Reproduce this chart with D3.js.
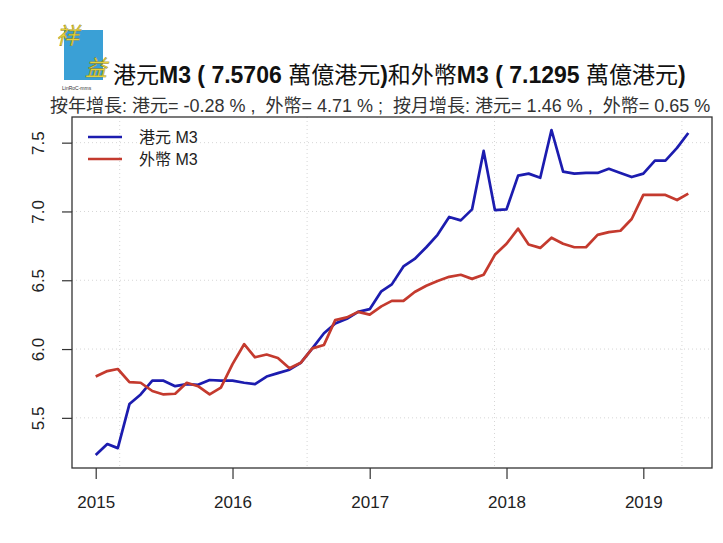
<!DOCTYPE html>
<html>
<head>
<meta charset="utf-8">
<script src="https://cdn.jsdelivr.net/npm/d3@7"></script>
<style>
  body { margin: 0; background: #fff; }
  svg { display: block; font-family: "Liberation Sans", Arial, "Noto Sans CJK TC", sans-serif; }
  .cjk { font-family: "Noto Sans CJK TC", "Noto Sans CJK SC", sans-serif; font-weight: normal; }
</style>
</head>
<body>
<svg id="chart" width="723" height="543"></svg>
<script>
// 每月 (2015-01 ~ 2019-05)
const months = [
  "2015-01","2015-02","2015-03","2015-04","2015-05","2015-06","2015-07","2015-08","2015-09","2015-10","2015-11","2015-12",
  "2016-01","2016-02","2016-03","2016-04","2016-05","2016-06","2016-07","2016-08","2016-09","2016-10","2016-11","2016-12",
  "2017-01","2017-02","2017-03","2017-04","2017-05","2017-06","2017-07","2017-08","2017-09","2017-10","2017-11","2017-12",
  "2018-01","2018-02","2018-03","2018-04","2018-05","2018-06","2018-07","2018-08","2018-09","2018-10","2018-11","2018-12",
  "2019-01","2019-02","2019-03","2019-04","2019-05"
];

// 港元 M3 (萬億港元)
const hkdM3 = [
  5.23, 5.31, 5.28, 5.60, 5.67, 5.77, 5.77, 5.73, 5.745, 5.74, 5.775, 5.77,
  5.77, 5.755, 5.745, 5.80, 5.825, 5.85, 5.90, 6.005, 6.115, 6.185, 6.22, 6.27,
  6.29, 6.42, 6.47, 6.60, 6.655, 6.74, 6.83, 6.96, 6.935, 7.015, 7.44, 7.01,
  7.015, 7.26, 7.275, 7.245, 7.592, 7.29, 7.275, 7.28, 7.28, 7.31, 7.28, 7.25,
  7.275, 7.37, 7.37, 7.462, 7.5706
];

// 外幣 M3 (萬億港元)
const fcM3 = [
  5.80, 5.84, 5.855, 5.76, 5.755, 5.695, 5.67, 5.675, 5.755, 5.73, 5.67, 5.72,
  5.89, 6.035, 5.94, 5.96, 5.935, 5.86, 5.90, 6.005, 6.03, 6.21, 6.23, 6.27,
  6.25, 6.31, 6.35, 6.35, 6.415, 6.46, 6.495, 6.525, 6.54, 6.51, 6.54, 6.685,
  6.765, 6.875, 6.76, 6.735, 6.809, 6.765, 6.74, 6.74, 6.83, 6.85, 6.86, 6.945,
  7.12, 7.12, 7.12, 7.083, 7.1295
];

const yTicks = [5.5, 6.0, 6.5, 7.0, 7.5];
const xTickYears = [2015, 2016, 2017, 2018, 2019];
const gridDays = [16500, 17000, 17500, 18000]; // R 日期數值的格線位置

const titleText = ["港元", "M3 ( 7.5706 ", "萬億港元", ")", "和外幣", "M3 ( 7.1295 ", "萬億港元", ")"];
const subTitle = "按年增長: 港元= -0.28 % ,  外幣= 4.71 % ;  按月增長: 港元= 1.46 % ,  外幣= 0.65 %";
const legendNames = ["港元 M3", "外幣 M3"];

const BLUE = "#1c1caf", RED = "#c43a2e";

const svg = d3.select("#chart");
const L = 72, R = 712, T = 117, B = 468;

const parse = d3.timeParse("%Y-%m");
const dates = months.map(parse);

// R 風格: 兩邊各留 4%
const dx = d3.extent(dates), span = dx[1] - dx[0];
const x = d3.scaleTime()
  .domain([new Date(+dx[0] - span * 0.04), new Date(+dx[1] + span * 0.04)])
  .range([L, R]);

const allY = hkdM3.concat(fcM3);
const ye = d3.extent(allY), ys = ye[1] - ye[0];
const y = d3.scaleLinear()
  .domain([ye[0] - ys * 0.04, ye[1] + ys * 0.04])
  .range([B, T]);

// 格線
const grid = svg.append("g").attr("stroke", "#d6d6d6").attr("stroke-dasharray", "1,3").attr("stroke-width", 1);
grid.selectAll("line.h").data(yTicks).enter().append("line")
  .attr("x1", L).attr("x2", R).attr("y1", d => y(d)).attr("y2", d => y(d));
grid.selectAll("line.v").data(gridDays).enter().append("line")
  .attr("x1", d => x(new Date(d * 86400000))).attr("x2", d => x(new Date(d * 86400000)))
  .attr("y1", T).attr("y2", B);

// 線
const line = v => d3.line().x((d, i) => x(dates[i])).y(d => y(d))(v);
svg.append("path").attr("d", line(hkdM3)).attr("fill", "none").attr("stroke", BLUE).attr("stroke-width", 2.7).attr("stroke-linejoin", "round");
svg.append("path").attr("d", line(fcM3)).attr("fill", "none").attr("stroke", RED).attr("stroke-width", 2.7).attr("stroke-linejoin", "round");

// 外框
svg.append("rect").attr("x", L).attr("y", T).attr("width", R - L).attr("height", B - T)
  .attr("fill", "none").attr("stroke", "#333").attr("stroke-width", 1.3);

// Y 軸 (標籤直立, 像 R 的 las=0)
const yAxis = svg.append("g").attr("transform", `translate(${L},0)`)
  .call(d3.axisLeft(y).tickValues(yTicks).tickSize(10).tickFormat(d3.format(".1f")));
yAxis.select(".domain").remove();
yAxis.selectAll("line").attr("stroke", "#333").attr("stroke-width", 1.2);
yAxis.selectAll(".tick text").each(function () {
  d3.select(this).attr("x", 0).attr("y", 0).attr("dy", "0.35em")
    .attr("text-anchor", "middle").attr("font-size", 17).attr("fill", "#222")
    .attr("transform", "translate(-34,0) rotate(-90)");
});

// X 軸
const xAxis = svg.append("g").attr("transform", `translate(0,${B})`)
  .call(d3.axisBottom(x).tickValues(xTickYears.map(v => new Date(v, 0, 1))).tickSize(11).tickFormat(d3.timeFormat("%Y")));
xAxis.select(".domain").remove();
xAxis.selectAll("line").attr("stroke", "#333").attr("stroke-width", 1.2);
xAxis.selectAll("text").attr("font-size", 17).attr("fill", "#222").attr("y", 28).attr("dy", "0.71em");

// 圖例
const lg = svg.append("g");
[BLUE, RED].forEach((c, i) => {
  lg.append("line").attr("x1", 88).attr("x2", 122).attr("y1", 137 + i * 22).attr("y2", 137 + i * 22)
    .attr("stroke", c).attr("stroke-width", 2.7);
  lg.append("text").attr("x", 139).attr("y", 143 + i * 22).attr("font-size", 16).attr("fill", "#222")
    .text(legendNames[i]);
});

// 標題
const title = svg.append("text").attr("x", 113).attr("y", 83).attr("font-size", 23).attr("fill", "#111");
titleText.forEach(t => {
  const isCjk = /[\u4e00-\u9fff]/.test(t);
  title.append("tspan").attr("class", isCjk ? "cjk" : null)
    .attr("font-weight", isCjk ? "normal" : "bold").text(t);
});

svg.append("text").attr("x", 50).attr("y", 112).attr("font-size", 18).attr("fill", "#333")
  .attr("xml:space", "preserve")
  .style("white-space", "pre")
  .style("font-family", "'Liberation Sans', 'Noto Sans CJK TC', sans-serif")
  .text(subTitle);

// 標誌
const logo = svg.append("g");
logo.append("rect").attr("x", 64).attr("y", 30).attr("width", 39).attr("height", 50).attr("fill", "#3aa0d6");
logo.append("text").attr("x", 56).attr("y", 44).attr("font-size", 23).attr("font-style", "italic")
  .attr("class", "cjk").attr("fill", "#e6d23a").attr("stroke", "#8a7a10").attr("stroke-width", 0.4).text("祥");
logo.append("text").attr("x", 85).attr("y", 76).attr("font-size", 22).attr("font-style", "italic")
  .attr("class", "cjk").attr("fill", "#e6d23a").attr("stroke", "#8a7a10").attr("stroke-width", 0.4).text("益");
logo.append("text").attr("x", 62).attr("y", 90).attr("font-size", 5).attr("fill", "#333").text("LinRoC-mms");
</script>
</body>
</html>
